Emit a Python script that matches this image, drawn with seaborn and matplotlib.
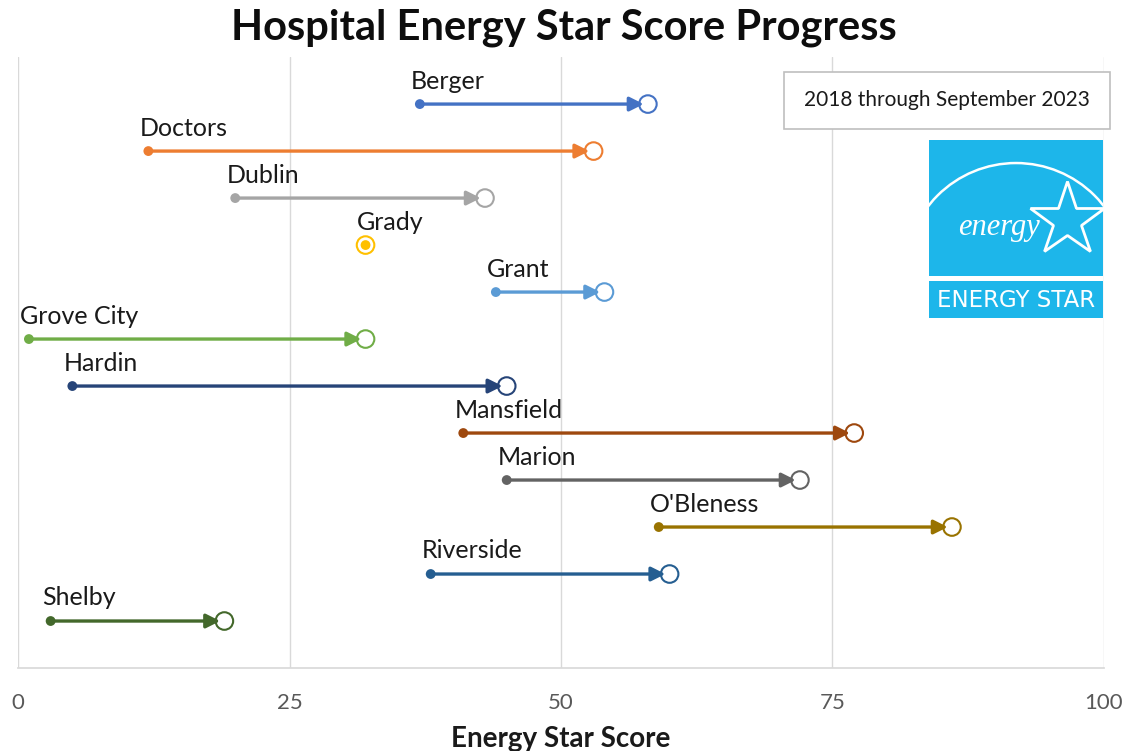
import matplotlib
matplotlib.use('Agg')
import matplotlib.pyplot as plt
from matplotlib.patches import Rectangle, Arc
import seaborn as sns
import pandas as pd
import numpy as np

# data
hospitals = ['Berger', 'Doctors', 'Dublin', 'Grady', 'Grant', 'Grove City', 'Hardin',
             'Mansfield', 'Marion', "O'Bleness", 'Riverside', 'Shelby']
score_2018 = [37, 12, 20, 32, 44, 1, 5, 41, 45, 59, 38, 3]
score_2023 = [58, 53, 43, 32, 54, 32, 45, 77, 72, 86, 60, 19]
colors = ['#4472C4', '#ED7D31', '#A5A5A5', '#FFC000', '#5B9BD5', '#70AD47',
          '#264478', '#9E480E', '#636363', '#997300', '#255E91', '#43682B']
x_ticks = [0, 25, 50, 75, 100]

df = pd.DataFrame({'Hospital': hospitals, 'start': score_2018, 'end': score_2023})
df['row'] = np.arange(1, len(df) + 1)

sns.set_theme(style='white')
plt.rcParams['font.family'] = ['Lato', 'DejaVu Sans']

fig = plt.figure(figsize=(11.28, 7.51), dpi=100)
ax = fig.add_axes([0.016, 0.1105, 0.9627, 0.8135])

# arrows from 2018 to 2023
for _, r in df.iterrows():
    c = colors[_]
    if r['end'] != r['start']:
        ax.annotate('', xy=(r['end'], r['row']), xytext=(r['start'], r['row']),
                    arrowprops=dict(arrowstyle='-|>', color=c, lw=2.4,
                                    mutation_scale=21, shrinkA=0, shrinkB=3),
                    zorder=3)
    ax.text(r['start'] - 0.8, r['row'] - 0.49, r['Hospital'], fontsize=18,
            color='#1A1A1A', ha='left', va='center')

sns.scatterplot(data=df, x='start', y='row', hue='Hospital', palette=colors,
                s=50, edgecolor='none', legend=False, ax=ax, zorder=4)
ax.scatter(df['end'], df['row'], s=160, facecolors='none', edgecolors=colors,
           linewidths=1.5, zorder=5)

ax.set_xlim(0, 100)
ax.set_ylim(13, 0)
ax.set_xticks(x_ticks)
ax.set_yticks([])
ax.grid(axis='x', color='#D9D9D9', lw=1)
for s in ['top', 'left', 'right']:
    ax.spines[s].set_visible(False)
ax.spines['bottom'].set_color('#D9D9D9')
ax.tick_params(axis='x', length=0, pad=18, labelsize=16, labelcolor='#595959')
ax.set_xlabel('Energy Star Score', fontsize=20, fontweight='bold', color='#1A1A1A',
              labelpad=9)
ax.set_ylabel('')

fig.text(0.5, 0.963, 'Hospital Energy Star Score Progress', ha='center', va='center',
         fontsize=30, fontweight='bold', color='#0D0D0D')

# date box
fig.patches.append(Rectangle((0.695, 0.828), 0.289, 0.0759, transform=fig.transFigure,
                             facecolor='white', edgecolor='#BFBFBF', lw=1.2, zorder=5))
fig.text(0.8395, 0.8668, '2018 through September 2023', ha='center', va='center',
         fontsize=15, color='#1A1A1A', zorder=6)

# Energy Star logo
lg = fig.add_axes([0.8236, 0.5766, 0.1543, 0.237])
lg.set_xlim(0, 1)
lg.set_ylim(0, 1)
lg.axis('off')
blue = '#1DB6EA'
lg.add_patch(Rectangle((0, 0.236), 1, 0.764, facecolor=blue, edgecolor='none'))
lg.add_patch(Rectangle((0, 0), 1, 0.205, facecolor=blue, edgecolor='none'))
lg.add_patch(Arc((0.5, 0.247), 1.276, 1.247, theta1=0, theta2=180, color='white', lw=1.8))
lg.plot([0.79], [0.55], marker='*', markersize=56, markerfacecolor=blue,
        markeredgecolor='white', markeredgewidth=2)
lg.text(0.40, 0.51, 'energy', fontsize=22, fontstyle='italic', color='white',
        family=['Liberation Serif', 'DejaVu Serif'], ha='center', va='center')
lg.text(0.5, 0.10, 'ENERGY STAR', fontsize=16.5, color='white', ha='center', va='center',
        family=['Liberation Sans Narrow', 'DejaVu Sans'])

fig.savefig('out.png', dpi=100)
